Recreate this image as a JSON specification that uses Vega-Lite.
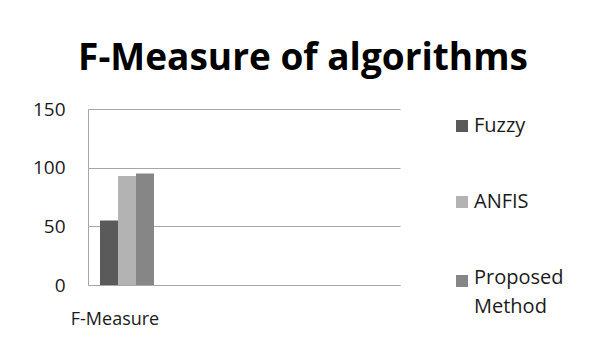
{
  "$schema": "https://vega.github.io/schema/vega-lite/v6.json",
  "width": 312,
  "height": 176,
  "autosize": {"type": "none"},
  "padding": {"left": 88, "top": 109, "right": 192, "bottom": 60},
  "background": "white",
  "title": {
    "text": "F-Measure of algorithms",
    "font": "Open Sans",
    "fontSize": 37,
    "fontWeight": "bold",
    "color": "#000000",
    "anchor": "middle",
    "frame": "group",
    "baseline": "alphabetic",
    "dx": 59,
    "offset": -7
  },
  "data": {
    "values": [
      {"metric": "F-Measure", "algorithm": "Fuzzy", "value": 55},
      {"metric": "F-Measure", "algorithm": "ANFIS", "value": 93},
      {"metric": "F-Measure", "algorithm": "Proposed Method", "value": 95}
    ]
  },
  "mark": {"type": "bar"},
  "encoding": {
    "x": {
      "field": "metric",
      "type": "nominal",
      "scale": {"domain": ["F-Measure", "_b", "_c", "_d"], "paddingInner": 0, "paddingOuter": 0},
      "axis": {
        "title": null,
        "labelAngle": 0,
        "labelExpr": "datum.value == 'F-Measure' ? datum.label : ''",
        "ticks": false,
        "domainColor": "#a6a6a6",
        "labelFont": "Open Sans",
        "labelFontSize": 18,
        "labelColor": "#1a1a1a",
        "labelPadding": 25,
        "labelOffset": -12
      }
    },
    "xOffset": {
      "field": "algorithm",
      "type": "nominal",
      "scale": {"domain": ["Fuzzy", "ANFIS", "Proposed Method"], "paddingInner": 0, "paddingOuter": 0.667}
    },
    "y": {
      "field": "value",
      "type": "quantitative",
      "scale": {"domain": [0, 150], "nice": false},
      "axis": {
        "title": null,
        "values": [0, 50, 100, 150],
        "ticks": false,
        "grid": true,
        "gridColor": "#a6a6a6",
        "domainColor": "#a6a6a6",
        "labelFont": "Open Sans",
        "labelFontSize": 19,
        "labelColor": "#1a1a1a",
        "labelPadding": 23
      }
    },
    "color": {
      "field": "algorithm",
      "type": "nominal",
      "scale": {"domain": ["Fuzzy", "ANFIS", "Proposed Method"], "range": ["#5a5a5a", "#b3b3b3", "#868686"]},
      "legend": {
        "title": null,
        "orient": "none",
        "legendX": 364,
        "legendY": 7,
        "symbolType": "square",
        "symbolSize": 144,
        "symbolStrokeWidth": 0,
        "labelFont": "Open Sans",
        "labelFontSize": 20,
        "labelColor": "#1a1a1a",
        "labelOffset": 2,
        "rowPadding": 56,
        "labelExpr": "datum.label == 'Proposed Method' ? ['Proposed', 'Method'] : datum.label",
        "encode": {
          "labels": {
            "update": {
              "lineHeight": {"value": 29},
              "dy": {"signal": "datum.label == 'Proposed Method' ? -3 : 0"}
            }
          }
        }
      }
    }
  },
  "config": {
    "view": {"stroke": null}
  }
}
